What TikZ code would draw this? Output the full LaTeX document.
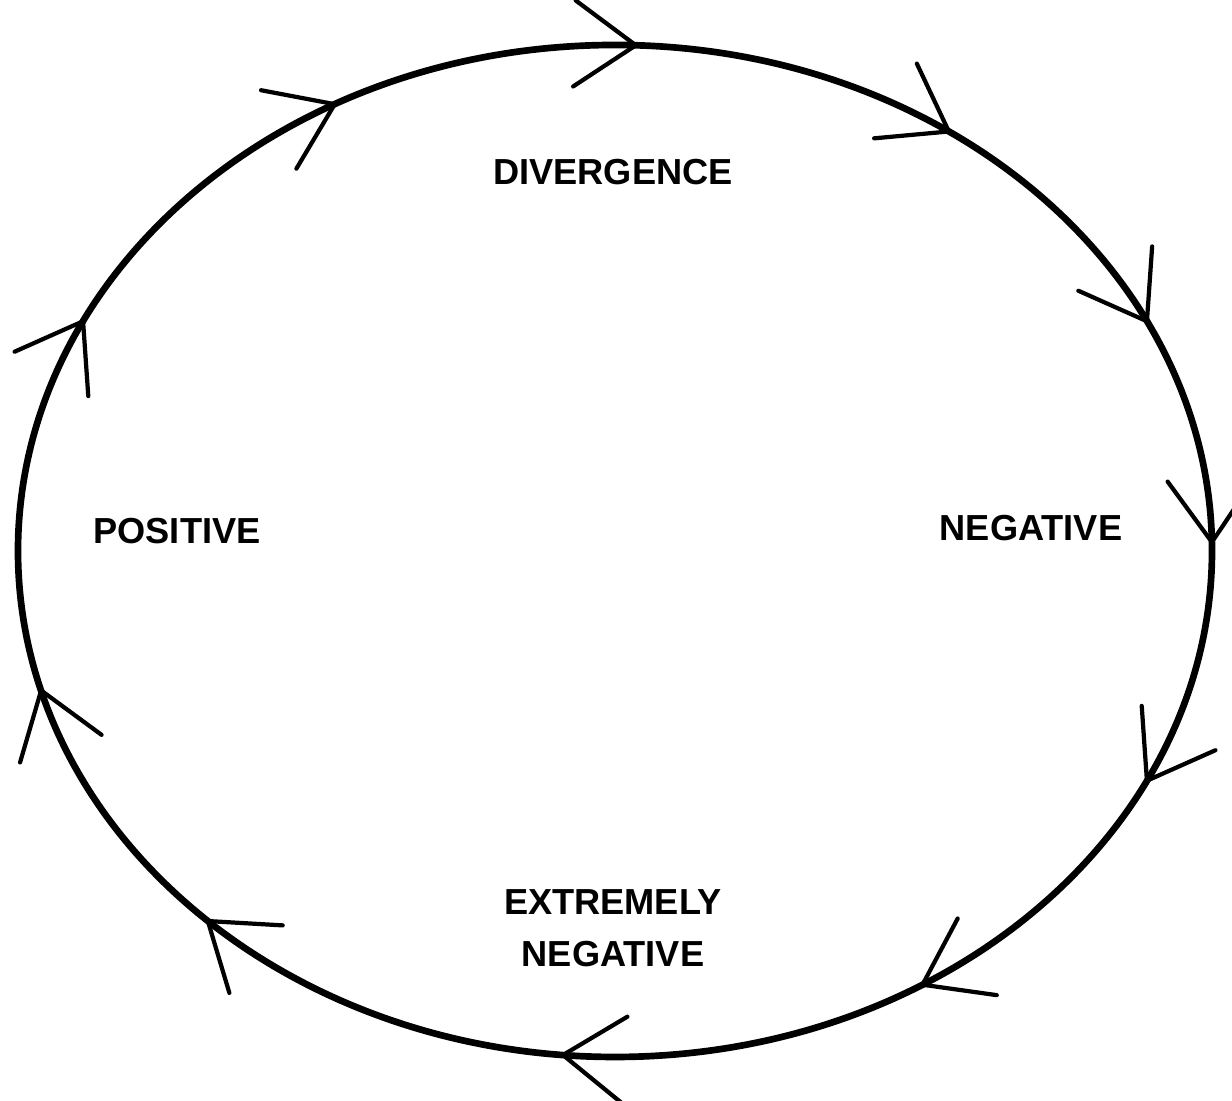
\documentclass[tikz,border=0pt]{standalone}
\usepackage{fontspec}
\setmainfont{Liberation Sans}
\usepackage{tikz}
\usetikzlibrary{calc}

\begin{document}
\begin{tikzpicture}[
    ring/.style={
        draw=black,
        line width=1.9pt
    },
    barb/.style={
        draw=black,
        line width=1.2pt,
        line cap=round
    },
    label/.style={
        font=\fontsize{10.3}{12.5}\selectfont\bfseries,
        align=center,
        inner sep=0pt
    }
]

\useasboundingbox (0,0) rectangle (12.32,11.01);

% Cycle
\coordinate (centre) at (6.15,5.50);
\def\rx{5.97}
\def\ry{5.06}
\draw[ring] (centre) ellipse[x radius=\rx, y radius=\ry];

% Clockwise arrowheads
\foreach \a in {88,56,27,1,-27,-59,-95,-133,-164,-207,-242}{
    \pgfmathsetmacro\dir{atan2(-\ry*cos(\a),\rx*sin(\a))}
    \coordinate (tip) at ($(centre)+({\rx*cos(\a)},{\ry*sin(\a)})$);
    \draw[barb] (tip) -- ++(\dir+180-35:0.75);
    \draw[barb] (tip) -- ++(\dir+180+35:0.75);
}

% Labels
\node[label] (divergence) at (6.13,9.29) {DIVERGENCE};
\node[label] (positive) at (1.77,5.70) {POSITIVE};
\node[label] (negative) at (10.31,5.73) {NEGATIVE};
\node[label] (extreme) at (6.13,1.73) {EXTREMELY\\[2.2pt]NEGATIVE};

\end{tikzpicture}
\end{document}
